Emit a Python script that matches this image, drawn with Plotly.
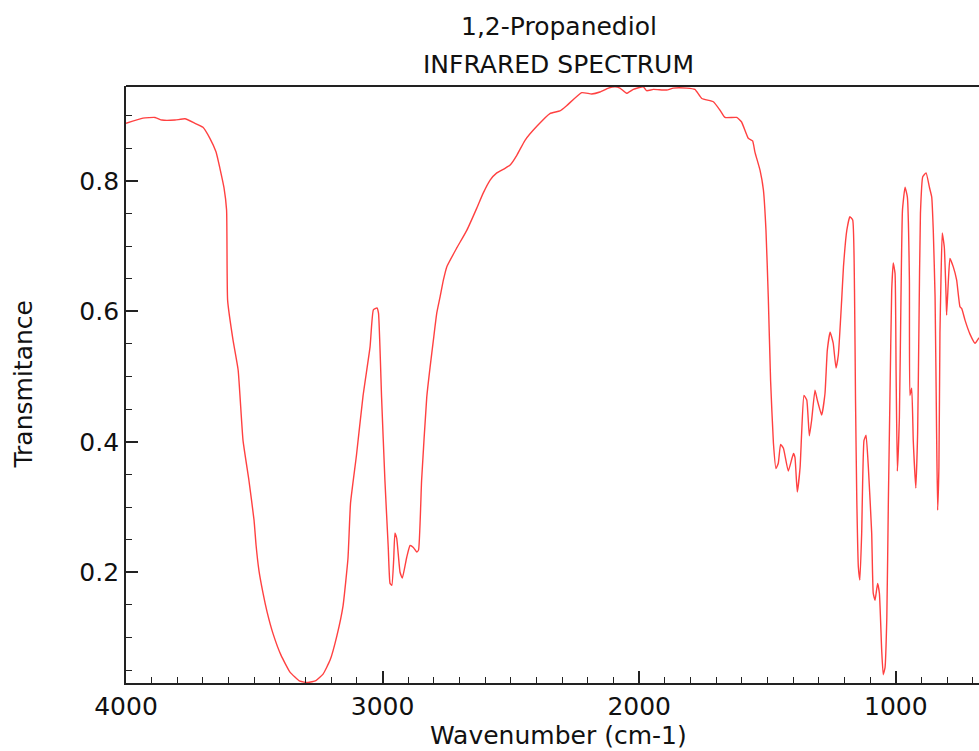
import plotly.graph_objects as go

# IR spectrum of 1,2-propanediol: wavenumber (cm-1) vs transmittance
wavenumber = [
    4000, 3934, 3887, 3860, 3809, 3770, 3731, 3700, 3673, 3649, 3634, 3618, 3608, 3604,
    3583, 3563, 3544, 3521, 3501, 3493, 3482, 3466, 3450, 3427, 3396, 3361, 3322, 3291,
    3260, 3232, 3205, 3178, 3154, 3135, 3125, 3102, 3076, 3049, 3036, 3022, 3016, 3004,
    2991, 2978, 2971, 2964, 2957, 2952, 2945, 2932, 2923, 2906, 2893, 2880, 2867, 2860,
    2848, 2828, 2815, 2802, 2789, 2776, 2763, 2750, 2711, 2672, 2633, 2608, 2581, 2555,
    2523, 2503, 2477, 2445, 2400, 2348, 2309, 2283, 2224, 2185, 2153, 2120, 2094, 2075,
    2049, 2023, 1984, 1971, 1945, 1893, 1867, 1815, 1783, 1756, 1711, 1685, 1666, 1620,
    1601, 1575, 1558, 1549, 1529, 1516, 1506, 1497, 1488, 1477, 1467, 1458, 1449, 1438,
    1419, 1399, 1393, 1384, 1373, 1367, 1358, 1347, 1337, 1328, 1315, 1306, 1289, 1276,
    1267, 1256, 1244, 1233, 1224, 1211, 1204, 1191, 1179, 1168, 1161, 1157, 1152, 1146,
    1140, 1133, 1124, 1116, 1107, 1094, 1088, 1081, 1071, 1064, 1055, 1049, 1042, 1035,
    1029, 1023, 1016, 1010, 1003, 999, 994, 986, 980, 974, 964, 955, 947, 945,
    938, 932, 922, 915, 910, 904, 895, 882, 869, 860, 854, 847, 841, 837,
    832, 828, 824, 819, 811, 804, 802, 795, 789, 776, 763, 750, 743, 730,
    711, 691, 676, 652,
]
transmittance = [
    0.888, 0.896, 0.897, 0.893, 0.893, 0.895, 0.888, 0.882, 0.865, 0.844, 0.819, 0.789, 0.755, 0.617,
    0.556, 0.510, 0.402, 0.341, 0.280, 0.241, 0.203, 0.168, 0.139, 0.106, 0.073, 0.047, 0.033, 0.031,
    0.034, 0.044, 0.065, 0.103, 0.149, 0.221, 0.306, 0.379, 0.471, 0.545, 0.602, 0.605, 0.597, 0.468,
    0.341, 0.238, 0.183, 0.180, 0.218, 0.260, 0.252, 0.200, 0.191, 0.223, 0.241, 0.238, 0.231, 0.234,
    0.341, 0.468, 0.514, 0.556, 0.597, 0.622, 0.648, 0.668, 0.697, 0.724, 0.758, 0.781, 0.801, 0.812,
    0.819, 0.824, 0.839, 0.862, 0.883, 0.903, 0.907, 0.915, 0.935, 0.933, 0.936, 0.942, 0.944, 0.942,
    0.934, 0.940, 0.944, 0.938, 0.940, 0.939, 0.942, 0.942, 0.940, 0.926, 0.921, 0.908, 0.897, 0.897,
    0.890, 0.865, 0.861, 0.844, 0.816, 0.786, 0.724, 0.622, 0.494, 0.398, 0.359, 0.367, 0.396, 0.390,
    0.355, 0.382, 0.376, 0.323, 0.361, 0.413, 0.471, 0.464, 0.409, 0.433, 0.479, 0.464, 0.441, 0.474,
    0.540, 0.568, 0.551, 0.513, 0.533, 0.617, 0.668, 0.724, 0.745, 0.740, 0.632, 0.464, 0.310, 0.208,
    0.188, 0.260, 0.402, 0.410, 0.361, 0.260, 0.168, 0.157, 0.183, 0.168, 0.080, 0.043, 0.054, 0.131,
    0.310, 0.464, 0.632, 0.674, 0.658, 0.510, 0.355, 0.438, 0.617, 0.755, 0.790, 0.775, 0.648, 0.471,
    0.482, 0.402, 0.329, 0.413, 0.571, 0.750, 0.806, 0.812, 0.790, 0.775, 0.724, 0.622, 0.413, 0.295,
    0.361, 0.566, 0.648, 0.720, 0.698, 0.622, 0.594, 0.648, 0.681, 0.668, 0.648, 0.607, 0.604, 0.586,
    0.565, 0.551, 0.559, 0.563,
]

x_ticks = [4000, 3000, 2000, 1000]
y_ticks = [0.2, 0.4, 0.6, 0.8]

FONT = "DejaVu Sans"
FONT_SIZE = 25
TEXT_COLOR = "#111111"
AXIS_COLOR = "#222222"

fig = go.Figure()
fig.add_trace(go.Scatter(
    x=wavenumber,
    y=transmittance,
    mode="lines",
    line=dict(color="rgba(255,0,0,0.75)", width=1.4, shape="spline", smoothing=0.4),
    showlegend=False,
    hoverinfo="x+y",
))

fig.update_layout(
    width=979,
    height=751,
    margin=dict(l=126, r=0, t=86, b=68),
    paper_bgcolor="white",
    plot_bgcolor="white",
    font=dict(family=FONT, size=FONT_SIZE, color=TEXT_COLOR),
    xaxis=dict(
        range=[4000, 675.8],
        tickvals=x_ticks,
        ticktext=[str(v) for v in x_ticks],
        ticks="inside",
        ticklen=12,
        tickwidth=1.5,
        tickcolor=AXIS_COLOR,
        showline=True,
        linecolor=AXIS_COLOR,
        linewidth=1.8,
        showgrid=False,
        zeroline=False,
        minor=dict(dtick=100, tick0=0, ticks="inside", ticklen=6,
                   tickwidth=1.3, tickcolor=AXIS_COLOR, showgrid=False),
        tickfont=dict(family=FONT, size=FONT_SIZE, color=TEXT_COLOR),
    ),
    yaxis=dict(
        range=[0.0303, 0.9452],
        tickvals=y_ticks,
        ticktext=[f"{v:.1f}" for v in y_ticks],
        ticks="inside",
        ticklen=12,
        tickwidth=1.5,
        tickcolor=AXIS_COLOR,
        showline=True,
        linecolor=AXIS_COLOR,
        linewidth=1.8,
        showgrid=False,
        zeroline=False,
        minor=dict(dtick=0.05, tick0=0, ticks="inside", ticklen=6,
                   tickwidth=1.3, tickcolor=AXIS_COLOR, showgrid=False),
        tickfont=dict(family=FONT, size=FONT_SIZE, color=TEXT_COLOR),
    ),
    shapes=[dict(type="line", xref="paper", yref="paper", x0=0, x1=1, y0=1, y1=1,
                 line=dict(color=AXIS_COLOR, width=1.8))],
    annotations=[
        dict(text="1,2-Propanediol", xref="paper", yref="paper", x=0.5076, y=1.0,
             yshift=60, xanchor="center", yanchor="middle", showarrow=False,
             font=dict(family=FONT, size=FONT_SIZE, color=TEXT_COLOR)),
        dict(text="INFRARED SPECTRUM", xref="paper", yref="paper", x=0.5076, y=1.0,
             yshift=22, xanchor="center", yanchor="middle", showarrow=False,
             font=dict(family=FONT, size=FONT_SIZE, color=TEXT_COLOR)),
        dict(text="Wavenumber (cm-1)", xref="paper", yref="paper", x=0.5076, y=0.0,
             yshift=-52, xanchor="center", yanchor="middle", showarrow=False,
             font=dict(family=FONT, size=FONT_SIZE, color=TEXT_COLOR)),
        dict(text="Transmitance", xref="paper", yref="paper", x=0.0, y=0.5,
             xshift=-103, xanchor="center", yanchor="middle", textangle=-90,
             showarrow=False, font=dict(family=FONT, size=FONT_SIZE, color=TEXT_COLOR)),
    ],
)

fig.write_html("out.html")
